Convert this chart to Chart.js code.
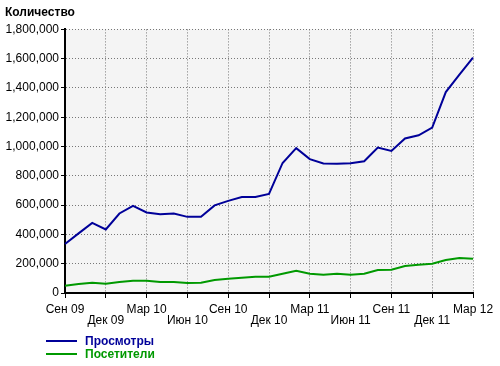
<!DOCTYPE html>
<html>
<head>
<meta charset="utf-8">
<script src="https://cdn.jsdelivr.net/npm/chart.js@4.4.1/dist/chart.umd.min.js"></script>
<style>
  body { margin: 0; background: #fff; }
  #wrap { position: relative; width: 500px; height: 366px; }
  #legend { position: absolute; left: 46px; top: 334px; font: bold 12px 'Liberation Sans', Arial, sans-serif; }
  .item { height: 13px; display: flex; align-items: center; }
  .swatch { width: 31px; height: 2px; margin-right: 8px; }
</style>
</head>
<body>
<div id="wrap">
  <canvas id="myChart"></canvas>
  <div id="legend"></div>
</div>
<script>
const months = ['Сен 09', 'Окт 09', 'Ноя 09', 'Дек 09', 'Янв 10', 'Фев 10', 'Мар 10', 'Апр 10',
  'Май 10', 'Июн 10', 'Июл 10', 'Авг 10', 'Сен 10', 'Окт 10', 'Ноя 10', 'Дек 10', 'Янв 11',
  'Фев 11', 'Мар 11', 'Апр 11', 'Май 11', 'Июн 11', 'Июл 11', 'Авг 11', 'Сен 11', 'Окт 11',
  'Ноя 11', 'Дек 11', 'Янв 12', 'Фев 12', 'Мар 12'];

const views = [335000, 407000, 479000, 434000, 543000, 595000, 550000, 537000, 543000, 520000,
  520000, 598000, 629000, 655000, 655000, 677000, 888000, 989000, 914000, 884000, 882000,
  886000, 900000, 993000, 970000, 1055000, 1077000, 1130000, 1372000, 1491000, 1607000];

const visitors = [50000, 61000, 70000, 64000, 75000, 84000, 84000, 75000, 75000, 68000, 70000,
  89000, 98000, 104000, 111000, 111000, 132000, 152000, 132000, 125000, 132000, 125000, 132000,
  157000, 159000, 184000, 193000, 200000, 225000, 239000, 234000];

const seriesNames = ['Просмотры', 'Посетители'];
const seriesColors = ['#000099', '#009900'];

const font = "'Liberation Sans', Arial, sans-serif";

const plotBg = {
    id: 'plotBg',
    beforeDraw(chart) {
        const a = chart.chartArea;
        chart.ctx.save();
        chart.ctx.fillStyle = '#f4f4f4';
        chart.ctx.fillRect(a.left, a.top, a.right - a.left, a.bottom - a.top);
        chart.ctx.restore();
    }
};

const ctx = document.getElementById('myChart').getContext('2d');
const chart = new Chart(ctx, {
    type: 'line',
    data: {
        labels: months,
        datasets: [views, visitors].map((d, i) => ({
            label: seriesNames[i],
            data: d,
            borderColor: seriesColors[i],
            borderWidth: 2,
            pointRadius: 0,
            tension: 0,
            fill: false
        }))
    },
    options: {
        responsive: true,
        maintainAspectRatio: false,
        animation: false,
        layout: { padding: { left: 5, right: 27, top: 0, bottom: 33 } },
        plugins: {
            legend: { display: false },
            tooltip: { enabled: false },
            title: {
                display: true,
                text: 'Количество',
                align: 'start',
                color: '#000',
                font: { family: font, size: 12, weight: 'bold' },
                padding: { top: 5, bottom: 10 }
            }
        },
        scales: {
            x: {
                afterFit(scale) { scale.height = 40; },
                grid: {
                    color: c => c.index % 3 === 0 ? '#777' : 'transparent',
                    tickColor: c => c.index % 3 === 0 ? '#000' : 'transparent',
                    tickLength: 5
                },
                border: { color: '#000', width: 2, dash: [1, 2] },
                ticks: {
                    autoSkip: false,
                    maxRotation: 0,
                    padding: 6,
                    color: '#000',
                    font: { family: font, size: 12, lineHeight: '11px' },
                    callback(value, index) {
                        if (index % 3 !== 0) return '';
                        const lbl = this.getLabelForValue(value);
                        return (index / 3) % 2 === 0 ? [lbl, ''] : ['', lbl];
                    }
                }
            },
            y: {
                min: 0,
                max: 1800000,
                afterFit(scale) { scale.width = 60; },
                grid: { color: '#777', tickColor: '#000', tickLength: 4 },
                border: { color: '#000', width: 2, dash: [1, 2] },
                ticks: {
                    stepSize: 200000,
                    padding: 2,
                    color: '#000',
                    font: { family: font, size: 12 },
                    callback: v => v.toLocaleString('en-US')
                }
            }
        }
    },
    plugins: [plotBg]
});

const legend = document.getElementById('legend');
seriesNames.forEach((name, i) => {
    const row = document.createElement('div');
    row.className = 'item';
    row.style.color = seriesColors[i];
    row.innerHTML = '<span class="swatch" style="background:' + seriesColors[i] + '"></span>' + name;
    legend.appendChild(row);
});
</script>
</body>
</html>
